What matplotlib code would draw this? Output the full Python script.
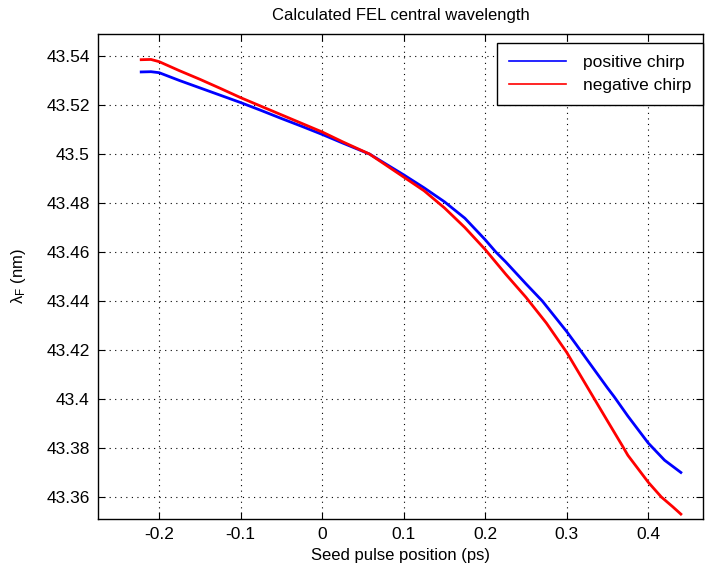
import matplotlib
matplotlib.use('Agg')
import matplotlib.pyplot as plt

# positive chirp (blue)
x_pos = [-0.222, -0.21, -0.2, -0.175, -0.15, -0.125, -0.1, -0.075, -0.05,
         -0.025, 0.0, 0.025, 0.058, 0.1, 0.125, 0.15, 0.175, 0.2, 0.213,
         0.225, 0.25, 0.27, 0.3, 0.311, 0.325, 0.35, 0.358, 0.375, 0.4,
         0.42, 0.44]
y_pos = [43.5335, 43.5336, 43.5332, 43.530, 43.527, 43.524, 43.521, 43.5178,
         43.5145, 43.5113, 43.508, 43.5045, 43.500, 43.4915, 43.4862, 43.4805,
         43.4738, 43.465, 43.460, 43.456, 43.447, 43.440, 43.4275, 43.4225,
         43.416, 43.4045, 43.401, 43.393, 43.382, 43.375, 43.370]

# negative chirp (red)
x_neg = [-0.222, -0.21, -0.2, -0.175, -0.15, -0.125, -0.1, -0.075, -0.05,
         -0.025, 0.0, 0.025, 0.058, 0.1, 0.125, 0.15, 0.175, 0.2, 0.225,
         0.25, 0.275, 0.3, 0.325, 0.35, 0.368, 0.375, 0.4, 0.416, 0.43, 0.44]
y_neg = [43.5385, 43.5386, 43.5377, 43.534, 43.5305, 43.5268, 43.523, 43.5195,
         43.516, 43.5125, 43.509, 43.505, 43.500, 43.4906, 43.485, 43.478,
         43.470, 43.461, 43.451, 43.4415, 43.431, 43.419, 43.405, 43.391,
         43.381, 43.377, 43.366, 43.360, 43.356, 43.353]

xticks = [-0.2, -0.1, 0, 0.1, 0.2, 0.3, 0.4]
xtick_labels = ['-0.2', '-0.1', '0', '0.1', '0.2', '0.3', '0.4']
yticks = [43.36, 43.38, 43.40, 43.42, 43.44, 43.46, 43.48, 43.50, 43.52, 43.54]
ytick_labels = ['43.36', '43.38', '43.4', '43.42', '43.44', '43.46', '43.48',
                '43.5', '43.52', '43.54']

plt.rcParams['font.family'] = ['Liberation Sans', 'DejaVu Sans']
plt.rcParams['font.size'] = 12

fig = plt.figure(figsize=(7.05, 5.74), dpi=100)
ax = fig.add_axes([0.139, 0.0958, 0.858, 0.845])

ax.plot(x_pos, y_pos, color='#0000ff', lw=2.0, label='positive chirp')
ax.plot(x_neg, y_neg, color='#ff0000', lw=2.0, label='negative chirp')

ax.set_xlim(-0.275, 0.467)
ax.set_ylim(43.351, 43.549)
ax.set_xticks(xticks)
ax.set_xticklabels(xtick_labels)
ax.set_yticks(yticks)
ax.set_yticklabels(ytick_labels)

ax.grid(True, color='black', linestyle=(0, (1, 4)), linewidth=0.8)
ax.tick_params(direction='in', top=True, right=True, length=5, width=0.8,
               labelsize=12.5, pad=6)
for s in ax.spines.values():
    s.set_linewidth(1.0)

ax.set_title('Calculated FEL central wavelength', fontsize=12, pad=10)
ax.set_xlabel('Seed pulse position (ps)', fontsize=12)
ax.set_ylabel(r'$\mathregular{\lambda_F}$ (nm)', fontsize=12)
ax.yaxis.set_label_coords(-0.115, 0.5)

leg = ax.legend(loc='upper right', bbox_to_anchor=(1.0, 0.981),
                fancybox=False, framealpha=1, edgecolor='black',
                borderaxespad=0, handlelength=3.3, labelspacing=0.5,
                handletextpad=1.0, borderpad=0.65, fontsize=12.5)
leg.get_frame().set_linewidth(1.0)
for h in leg.get_lines():
    h.set_linewidth(1.2)

fig.savefig('out.png', dpi=100)
